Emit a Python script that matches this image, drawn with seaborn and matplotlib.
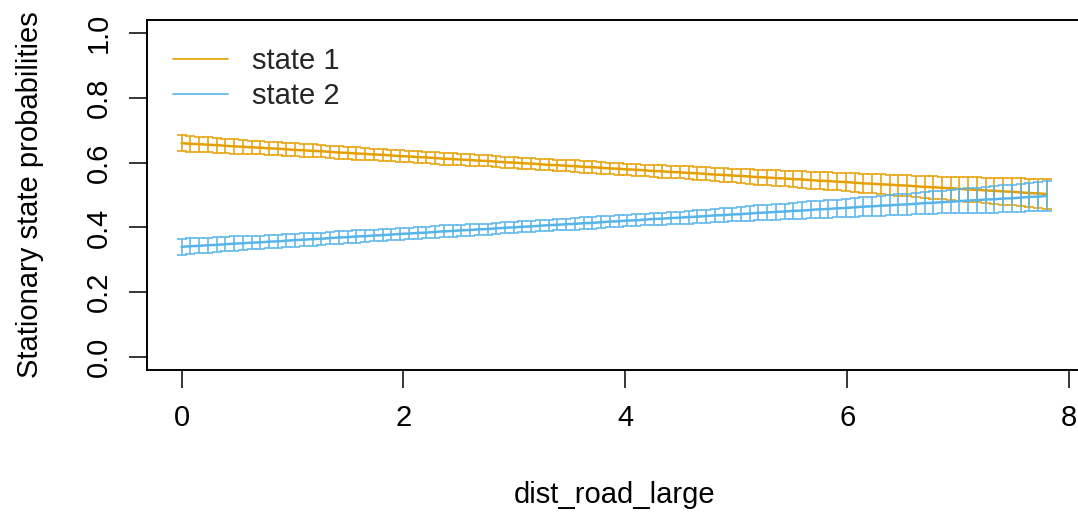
import numpy as np
import pandas as pd
import matplotlib
matplotlib.use("Agg")
import matplotlib.pyplot as plt
from matplotlib.lines import Line2D
import seaborn as sns

# ---- data ----
x_min, x_max, n_grid = 0.0, 7.8, 100
covariate_name = "dist_road_large"
state_labels = ["state 1", "state 2"]

state1_mean = [
    0.660, 0.658, 0.657, 0.655, 0.654, 0.652, 0.650, 0.649, 0.647, 0.646,
    0.644, 0.643, 0.641, 0.639, 0.638, 0.636, 0.635, 0.633, 0.631, 0.630,
    0.628, 0.627, 0.625, 0.624, 0.622, 0.620, 0.619, 0.617, 0.616, 0.614,
    0.612, 0.611, 0.609, 0.608, 0.606, 0.605, 0.603, 0.601, 0.600, 0.598,
    0.597, 0.595, 0.593, 0.592, 0.590, 0.589, 0.587, 0.586, 0.584, 0.582,
    0.581, 0.579, 0.578, 0.576, 0.574, 0.573, 0.571, 0.570, 0.568, 0.567,
    0.565, 0.563, 0.562, 0.560, 0.559, 0.557, 0.555, 0.554, 0.552, 0.551,
    0.549, 0.548, 0.546, 0.544, 0.543, 0.541, 0.540, 0.538, 0.536, 0.535,
    0.533, 0.532, 0.530, 0.529, 0.527, 0.525, 0.524, 0.522, 0.521, 0.519,
    0.517, 0.516, 0.514, 0.513, 0.511, 0.510, 0.508, 0.506, 0.505, 0.503,
]
state2_mean = [
    0.340, 0.342, 0.343, 0.345, 0.346, 0.348, 0.350, 0.351, 0.353, 0.354,
    0.356, 0.357, 0.359, 0.361, 0.362, 0.364, 0.365, 0.367, 0.369, 0.370,
    0.372, 0.373, 0.375, 0.376, 0.378, 0.380, 0.381, 0.383, 0.384, 0.386,
    0.388, 0.389, 0.391, 0.392, 0.394, 0.395, 0.397, 0.399, 0.400, 0.402,
    0.403, 0.405, 0.407, 0.408, 0.410, 0.411, 0.413, 0.414, 0.416, 0.418,
    0.419, 0.421, 0.422, 0.424, 0.426, 0.427, 0.429, 0.430, 0.432, 0.433,
    0.435, 0.437, 0.438, 0.440, 0.441, 0.443, 0.445, 0.446, 0.448, 0.449,
    0.451, 0.452, 0.454, 0.456, 0.457, 0.459, 0.460, 0.462, 0.464, 0.465,
    0.467, 0.468, 0.470, 0.471, 0.473, 0.475, 0.476, 0.478, 0.479, 0.481,
    0.483, 0.484, 0.486, 0.487, 0.489, 0.490, 0.492, 0.494, 0.495, 0.497,
]
# 95% CI half-widths (same for both states)
ci_half = [
    0.024, 0.024, 0.023, 0.023, 0.023, 0.022, 0.022, 0.022, 0.021, 0.021,
    0.021, 0.021, 0.020, 0.020, 0.020, 0.020, 0.019, 0.019, 0.019, 0.019,
    0.019, 0.019, 0.018, 0.018, 0.018, 0.018, 0.018, 0.018, 0.018, 0.018,
    0.018, 0.018, 0.017, 0.017, 0.017, 0.017, 0.017, 0.017, 0.017, 0.017,
    0.017, 0.017, 0.017, 0.017, 0.017, 0.018, 0.018, 0.018, 0.018, 0.018,
    0.018, 0.018, 0.018, 0.018, 0.019, 0.019, 0.019, 0.019, 0.020, 0.020,
    0.020, 0.020, 0.021, 0.021, 0.022, 0.022, 0.023, 0.023, 0.024, 0.024,
    0.025, 0.025, 0.026, 0.026, 0.027, 0.027, 0.028, 0.029, 0.029, 0.030,
    0.031, 0.031, 0.032, 0.033, 0.033, 0.034, 0.035, 0.035, 0.036, 0.037,
    0.038, 0.039, 0.040, 0.041, 0.042, 0.042, 0.043, 0.044, 0.045, 0.046,
]
state_colors = ["#E69F00", "#56B4E9"]
x_ticks = [0, 2, 4, 6, 8]
y_ticks = [0.0, 0.2, 0.4, 0.6, 0.8, 1.0]

# ---- build table ----
grid = np.linspace(x_min, x_max, n_grid)
frames = []
for lab, m in zip(state_labels, [state1_mean, state2_mean]):
    m = np.asarray(m)
    h = np.asarray(ci_half)
    frames.append(pd.DataFrame({covariate_name: grid, "prob": m,
                                "lower": m - h, "upper": m + h, "state": lab}))
df = pd.concat(frames, ignore_index=True)

# ---- style ----
sns.set_style("white")
plt.rcParams["font.family"] = ["Liberation Sans", "DejaVu Sans"]
FS = 21

W, H = 1078, 516
fig = plt.figure(figsize=(W / 100, H / 100), dpi=100)
ax = fig.add_axes([147 / W, 146 / H, 934.5 / W, 350 / H])

for lab, col in zip(state_labels, state_colors):
    sub = df[df["state"] == lab]
    sns.lineplot(data=sub, x=covariate_name, y="prob", color=col, lw=1.8,
                 ax=ax, legend=False, errorbar=None)
    ax.errorbar(sub[covariate_name], sub["prob"],
                yerr=[sub["prob"] - sub["lower"], sub["upper"] - sub["prob"]],
                fmt="none", ecolor=col, elinewidth=1.1, capsize=3.6,
                capthick=1.1)

ax.set_xlim(x_min - 0.04 * (x_max - x_min), x_max + 0.04 * (x_max - x_min))
ax.set_ylim(-0.04, 1.04)
ax.set_xticks(x_ticks)
ax.set_xticklabels([str(t) for t in x_ticks], fontsize=FS)
ax.set_yticks(y_ticks)
ax.set_yticklabels([f"{t:.1f}" for t in y_ticks], fontsize=FS,
                   rotation=90, va="center")
ax.tick_params(axis="both", direction="out", length=13, width=1.1,
               color="black", labelcolor="black", pad=11.5,
               bottom=True, left=True)

for sp in ax.spines.values():
    sp.set_visible(True)
    sp.set_color("black")
    sp.set_linewidth(1.4)

ax.set_xlabel(covariate_name, fontsize=FS, color="black")
ax.xaxis.label.set_va("center")
ax.xaxis.set_label_coords(0.5, -0.357)
ax.set_ylabel("Stationary state probabilities", fontsize=FS, color="black")
ax.yaxis.label.set_va("center")
ax.yaxis.set_label_coords(-0.1252, 0.5)

handles = [Line2D([0], [0], color=c, lw=1.2) for c in state_colors]
fig.legend(handles, state_labels, loc="upper left",
           bbox_to_anchor=(173 / W, 1 - 47 / H), frameon=False,
           fontsize=FS, handlelength=1.9, handletextpad=0.8,
           labelspacing=0.25, borderpad=0, borderaxespad=0)

fig.savefig("out.png", dpi=100)
